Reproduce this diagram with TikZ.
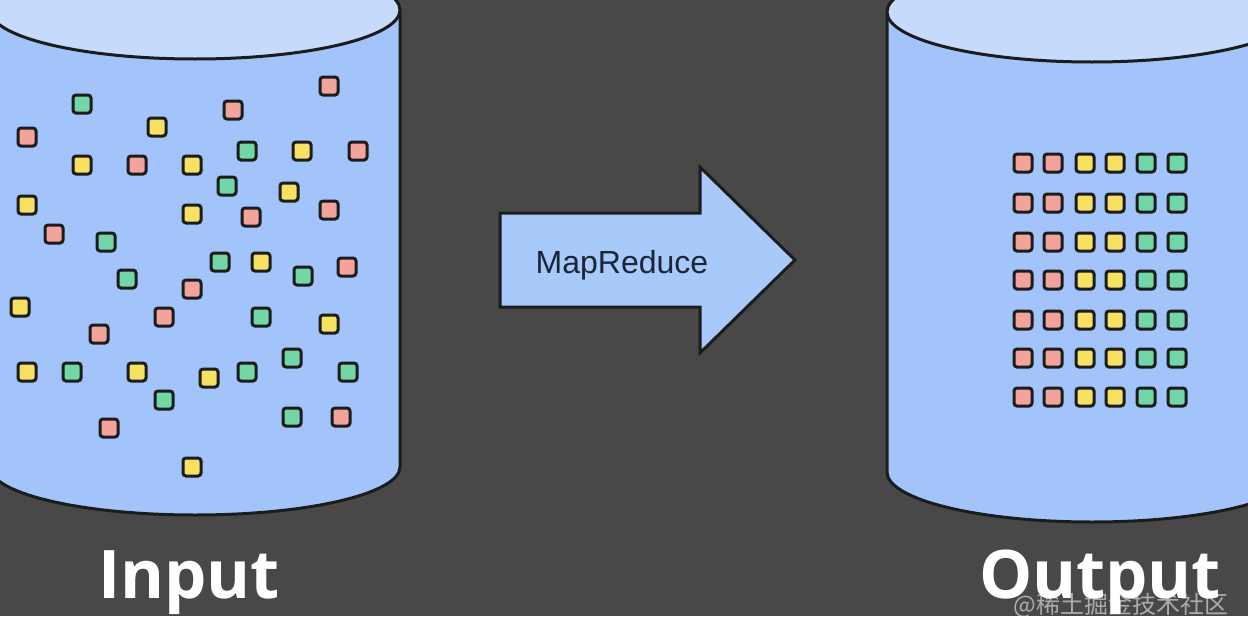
\documentclass[tikz,border=0pt]{standalone}
\usepackage{fontspec}
\newfontfamily\osfont{Open Sans}
\newfontfamily\arialfont{Liberation Sans}
\newfontfamily\cjkfont{Noto Sans CJK SC}
\definecolor{bg}{HTML}{484848}
\definecolor{body}{HTML}{A2C4FA}
\definecolor{topc}{HTML}{C6DAFB}
\definecolor{arrowc}{HTML}{A8CAFA}
\definecolor{outl}{HTML}{1C1C1C}
\definecolor{pk}{HTML}{F2A39C}
\definecolor{yl}{HTML}{F7E163}
\definecolor{gr}{HTML}{72D6A6}
\definecolor{txtc}{HTML}{1A2638}
\tikzset{
  sq/.style={draw=outl, line width=3pt, minimum size=18pt, inner sep=0pt, rounded corners=3pt},
  sqp/.style={sq, fill=pk},
  sqy/.style={sq, fill=yl},
  sqg/.style={sq, fill=gr},
  cyl/.style={fill=body, draw=outl, line width=3pt},
  cyltop/.style={fill=topc, draw=outl, line width=3pt},
  bigtxt/.style={text=white, font=\osfont\bfseries\fontsize{67}{70}\selectfont, inner sep=0pt, anchor=base},
}
\begin{document}
\begin{tikzpicture}[x=1pt,y=-1pt]
\useasboundingbox (0,0) rectangle (1248,616);
\clip (0,0) rectangle (1248,616);
\fill[bg] (0,0) rectangle (1248,616);

% left cylinder
\path[cyl] (-10,10) -- (-10,467) arc[start angle=180,end angle=0,x radius=205,y radius=48] -- (400,10);
\draw[cyltop] (195,10) ellipse[x radius=205, y radius=49];

% right cylinder
\path[cyl] (887,12) -- (887,472) arc[start angle=180,end angle=0,x radius=205,y radius=50] -- (1297,12);
\draw[cyltop] (1092,12) ellipse[x radius=205, y radius=50];

% scattered squares (input)
\foreach \x/\y/\s [count=\i] in {
  82/104/sqg, 329/86/sqp, 233/110/sqp, 157/127/sqy, 27/137/sqp,
  247/151/sqg, 302/151/sqy, 358/151/sqp, 82/165/sqy, 137/165/sqp,
  192/165/sqy, 227/186/sqg, 289/192/sqy, 27/205/sqy, 192/214/sqy,
  251/217/sqp, 329/210/sqp, 54/234/sqp, 106/242/sqg, 220/262/sqg,
  261/262/sqy, 303/276/sqg, 347/267/sqp, 127/279/sqg, 192/289/sqp,
  20/307/sqy, 164/317/sqp, 261/317/sqg, 329/324/sqy, 99/334/sqp,
  27/372/sqy, 72/372/sqg, 137/372/sqy, 209/378/sqy, 247/372/sqg,
  292/358/sqg, 348/372/sqg, 164/400/sqg, 292/417/sqg, 341/417/sqp,
  109/428/sqp, 192/467/sqy}
  \node[\s] (in\i) at (\x,\y) {};

% sorted squares (output)
\foreach \y [count=\r] in {163,203,242,280,320,358,397}
  \foreach \x/\s [count=\c] in {1023/sqp,1053/sqp,1085/sqy,1115/sqy,1146/sqg,1177/sqg}
    \node[\s] (out\r-\c) at (\x,\y) {};

% MapReduce arrow
\draw[fill=arrowc, draw=outl, line width=3pt, line join=miter]
  (500,213) -- (700,213) -- (700,167) -- (795,260) -- (700,353) -- (700,307) -- (500,307) -- cycle;
\node[text=txtc, font=\arialfont\fontsize{32}{34}\selectfont, inner sep=0pt, anchor=base] (mr) at (622,273) {MapReduce};

% labels
\node[bigtxt] (input) at (189,598) {Input};
\node[bigtxt] (output) at (1100,598) {Output};

% watermark
\node[text=white, opacity=0.55, font=\cjkfont\fontsize{24}{26}\selectfont, inner sep=0pt] (wm) at (1121,605) {@稀土掘金技术社区};
\end{tikzpicture}
\end{document}
